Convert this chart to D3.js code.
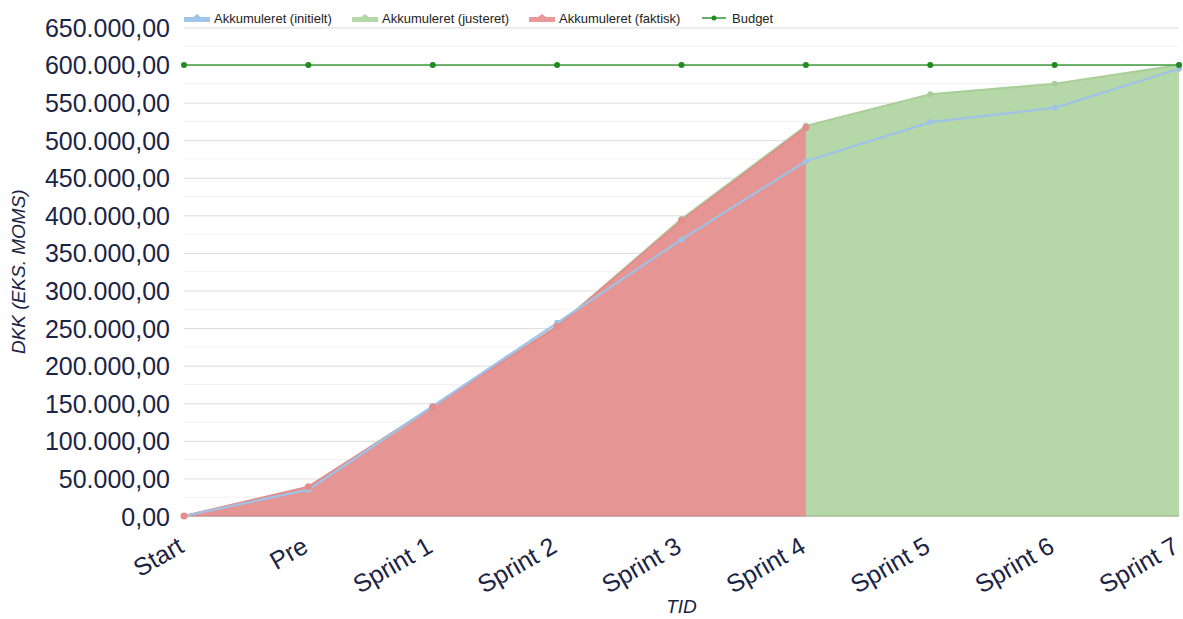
<!DOCTYPE html>
<html lang="da">
<head>
<meta charset="utf-8">
<title>Akkumuleret budget</title>
<script src="https://cdn.jsdelivr.net/npm/d3@7"></script>
<style>
  body { margin: 0; background: #fff; }
  svg { font-family: "Liberation Sans", Arial, sans-serif; }
  .tick text { fill: #1b2444; }
</style>
</head>
<body>
<script>
// data
var categories = ['Start', 'Pre', 'Sprint 1', 'Sprint 2', 'Sprint 3', 'Sprint 4', 'Sprint 5', 'Sprint 6', 'Sprint 7'];
var initielt = [0, 35000, 146000, 257000, 368000, 472000, 524000, 543000, 595000];
var justeret = [0, 38000, 146000, 252000, 395000, 519000, 561000, 575000, 600000];
var faktisk = [0, 39000, 145000, 252000, 393000, 517000];
var budget = [600000, 600000, 600000, 600000, 600000, 600000, 600000, 600000, 600000];
var yTicks = [0, 50000, 100000, 150000, 200000, 250000, 300000, 350000, 400000, 450000, 500000, 550000, 600000, 650000];

var w = 1183, h = 619;
var plotLeft = 184, plotRight = 1179, plotTop = 27.4, plotBottom = 516;

var svg = d3.select('body').append('svg')
  .attr('width', w)
  .attr('height', h);

var x = d3.scalePoint().domain(categories).range([plotLeft, plotRight]);
var y = d3.scaleLinear().domain([0, 650000]).range([plotBottom, plotTop]);

// danish number format
var fmt = function(v) {
  var s = d3.format(',.2f')(v);
  return s.replace(/,/g, '#').replace('.', ',').replace(/#/g, '.');
};

// minor gridlines
svg.append('g').selectAll('line')
  .data(d3.range(25000, 650000, 50000))
  .enter().append('line')
  .attr('x1', plotLeft).attr('x2', plotRight)
  .attr('y1', function(d) { return y(d); })
  .attr('y2', function(d) { return y(d); })
  .attr('stroke', '#f1f1f1');

// y axis with major gridlines
var yAxis = svg.append('g')
  .attr('transform', 'translate(' + plotLeft + ',0)')
  .call(d3.axisLeft(y).tickValues(yTicks).tickFormat(fmt).tickSize(-(plotRight - plotLeft)).tickPadding(14));
yAxis.select('.domain').remove();
yAxis.selectAll('.tick line').attr('stroke', '#dcdcdc');
yAxis.selectAll('.tick text').attr('font-size', 25).attr('dy', '0.36em');

// areas
function pts(arr) {
  return arr.map(function(v, i) { return { c: categories[i], v: v }; });
}
var area = d3.area()
  .x(function(d) { return x(d.c); })
  .y0(y(0))
  .y1(function(d) { return y(d.v); });
var line = d3.line()
  .x(function(d) { return x(d.c); })
  .y(function(d) { return y(d.v); });

svg.append('path').datum(pts(initielt))
  .attr('d', area).attr('fill', '#c9dcf0');
svg.append('path').datum(pts(justeret))
  .attr('d', area).attr('fill', '#b6d7a8');
svg.append('path').datum(pts(justeret))
  .attr('d', line).attr('fill', 'none').attr('stroke', '#a9cf98').attr('stroke-width', 2);
svg.append('path').datum(pts(faktisk))
  .attr('d', area).attr('fill', '#e69595');
svg.append('path').datum(pts(faktisk))
  .attr('d', line).attr('fill', 'none').attr('stroke', '#e38d8d').attr('stroke-width', 2);

// bottom edge
svg.append('line')
  .attr('x1', plotLeft).attr('x2', x('Sprint 4'))
  .attr('y1', y(0)).attr('y2', y(0))
  .attr('stroke', '#c98383').attr('stroke-width', 1);
svg.append('line')
  .attr('x1', x('Sprint 4')).attr('x2', plotRight)
  .attr('y1', y(0)).attr('y2', y(0))
  .attr('stroke', '#94b886').attr('stroke-width', 1);

// markers for justeret
svg.append('g').selectAll('circle')
  .data(pts(justeret))
  .enter().append('circle')
  .attr('cx', function(d) { return x(d.c); })
  .attr('cy', function(d) { return y(d.v); })
  .attr('r', 3).attr('fill', '#aacb9d');

// initielt line on top
svg.append('path').datum(pts(initielt))
  .attr('d', line).attr('fill', 'none').attr('stroke', '#9fc2e7').attr('stroke-width', 2.2);
svg.append('g').selectAll('circle')
  .data(pts(initielt))
  .enter().append('circle')
  .attr('cx', function(d) { return x(d.c); })
  .attr('cy', function(d) { return y(d.v); })
  .attr('r', 3).attr('fill', '#9fc2e7');

// markers for faktisk
svg.append('g').selectAll('circle')
  .data(pts(faktisk))
  .enter().append('circle')
  .attr('cx', function(d) { return x(d.c); })
  .attr('cy', function(d) { return y(d.v); })
  .attr('r', 3.5).attr('fill', '#e38d8d');

// budget
svg.append('path').datum(pts(budget))
  .attr('d', line).attr('fill', 'none').attr('stroke', '#3f9c3f').attr('stroke-width', 1.5);
svg.append('g').selectAll('circle')
  .data(pts(budget))
  .enter().append('circle')
  .attr('cx', function(d) { return x(d.c); })
  .attr('cy', function(d) { return y(d.v); })
  .attr('r', 3).attr('fill', '#1e8c1e');

// x axis labels
var xAxis = svg.append('g')
  .attr('transform', 'translate(0,' + plotBottom + ')')
  .call(d3.axisBottom(x).tickSize(0).tickPadding(0));
xAxis.select('.domain').remove();
xAxis.selectAll('.tick text')
  .attr('font-size', 25)
  .attr('text-anchor', 'end')
  .attr('dy', 0)
  .attr('y', 0)
  .attr('transform', 'translate(1,35) rotate(-30)');

// axis titles
svg.append('text')
  .attr('transform', 'translate(25,' + ((plotTop + plotBottom) / 2) + ') rotate(-90)')
  .attr('text-anchor', 'middle')
  .attr('font-size', 19)
  .attr('font-style', 'italic')
  .attr('fill', '#1b2444')
  .text('DKK (EKS. MOMS)');

svg.append('text')
  .attr('x', (plotLeft + plotRight) / 2)
  .attr('y', 613)
  .attr('text-anchor', 'middle')
  .attr('font-size', 19)
  .attr('font-style', 'italic')
  .attr('fill', '#1b2444')
  .text('TID');

// legend
var legendItems = [
  { name: 'Akkumuleret (initielt)', color: '#9fc5e8', type: 'area', x: 184 },
  { name: 'Akkumuleret (justeret)', color: '#b6d7a8', type: 'area', x: 352 },
  { name: 'Akkumuleret (faktisk)', color: '#ea9999', type: 'area', x: 529 },
  { name: 'Budget', color: '#2e9a2e', type: 'line', x: 702 }
];
var legend = svg.append('g').selectAll('g')
  .data(legendItems)
  .enter().append('g')
  .attr('transform', function(d) { return 'translate(' + d.x + ',18)'; });

legend.filter(function(d) { return d.type === 'area'; })
  .append('path')
  .attr('d', 'M0,4 L0,-1 L9,-1 L13,-4 L17,-1 L26,-1 L26,4 Z')
  .attr('fill', function(d) { return d.color; });

legend.filter(function(d) { return d.type === 'line'; })
  .append('line')
  .attr('x1', 0).attr('x2', 24).attr('y1', 0).attr('y2', 0)
  .attr('stroke', function(d) { return d.color; }).attr('stroke-width', 1.5);
legend.filter(function(d) { return d.type === 'line'; })
  .append('circle')
  .attr('cx', 12).attr('cy', 0).attr('r', 2.5)
  .attr('fill', '#1e8c1e');

legend.append('text')
  .attr('x', 30)
  .attr('y', 4.5)
  .attr('font-size', 13)
  .attr('fill', '#222')
  .text(function(d) { return d.name; });
</script>
</body>
</html>
